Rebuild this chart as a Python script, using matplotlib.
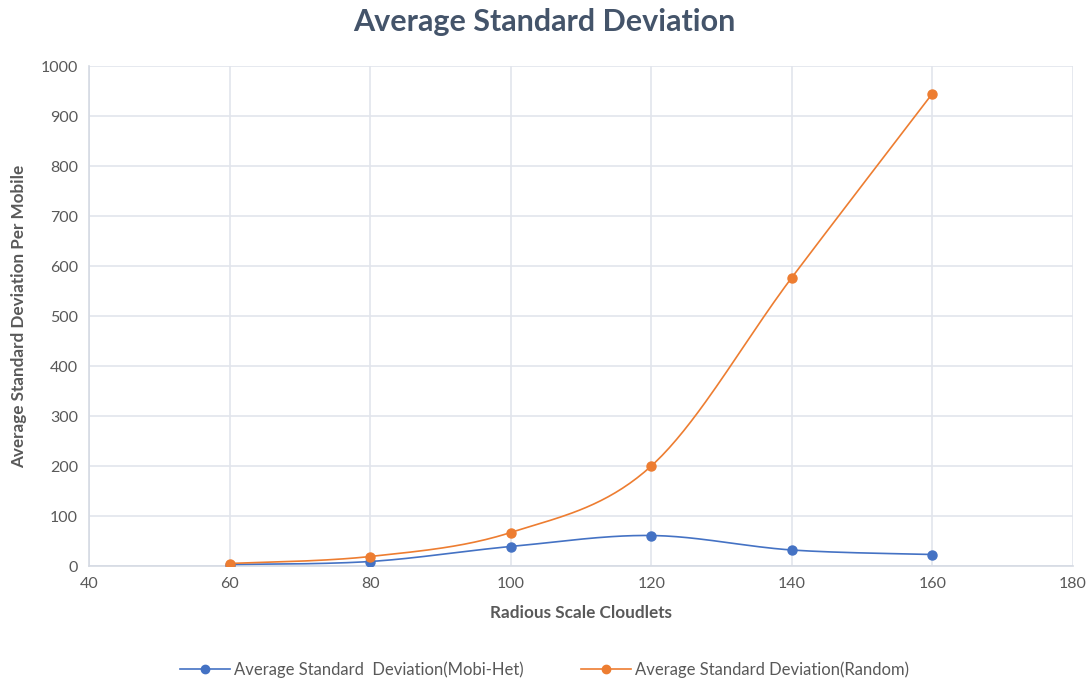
import numpy as np
import matplotlib
matplotlib.use("Agg")
import matplotlib.pyplot as plt
from matplotlib.lines import Line2D

plt.rcParams['font.family'] = ['Lato', 'DejaVu Sans']

radius = [60, 80, 100, 120, 140, 160]
mobi_het = [3, 9, 39, 61, 32, 23]
random_sd = [5, 19, 67, 200, 577, 945]

x_ticks = [40, 60, 80, 100, 120, 140, 160, 180]
y_ticks = list(range(0, 1001, 100))

BLUE = '#4472C4'
ORANGE = '#ED7D31'
GRID = '#E2E5EC'
TEXT = '#595959'


def smooth(xs, ys, n=40):
    """Cubic Bezier smoothing through every point (spreadsheet-style)."""
    xs = np.asarray(xs, float)
    ys = np.asarray(ys, float)
    px = np.concatenate([[xs[0]], xs, [xs[-1]]])
    py = np.concatenate([[ys[0]], ys, [ys[-1]]])
    out_x, out_y = [], []
    t = np.linspace(0, 1, n)
    for i in range(1, len(px) - 2):
        p0 = np.array([px[i], py[i]])
        p3 = np.array([px[i + 1], py[i + 1]])
        c1 = p0 + (np.array([px[i + 1], py[i + 1]]) - np.array([px[i - 1], py[i - 1]])) / 6
        c2 = p3 - (np.array([px[i + 2], py[i + 2]]) - np.array([px[i], py[i]])) / 6
        b = ((1 - t) ** 3)[:, None] * p0 + (3 * (1 - t) ** 2 * t)[:, None] * c1 \
            + (3 * (1 - t) * t ** 2)[:, None] * c2 + (t ** 3)[:, None] * p3
        out_x.extend(b[:, 0])
        out_y.extend(b[:, 1])
    return out_x, out_y


fig = plt.figure(figsize=(10.89, 6.82), dpi=100)
ax = fig.add_axes([89 / 1089, 1 - 566 / 682, (1073 - 89) / 1089, 500 / 682])

for ys, color in [(mobi_het, BLUE), (random_sd, ORANGE)]:
    sx, sy = smooth(radius, ys)
    ax.plot(sx, sy, color=color, lw=1.2, zorder=3)
    ax.plot(radius, ys, 'o', color=color, ms=6.5, zorder=4)

ax.set_xlim(40, 180)
ax.set_ylim(0, 1000)
ax.set_xticks(x_ticks)
ax.set_yticks(y_ticks)
ax.grid(True, color=GRID, lw=1.2)
ax.set_axisbelow(True)
for s in ['top', 'right']:
    ax.spines[s].set_visible(False)
for s in ['left', 'bottom']:
    ax.spines[s].set_color('#D5DAE3')
    ax.spines[s].set_linewidth(1.2)
ax.tick_params(length=0, colors=TEXT, labelsize=11.5, pad=8)

ax.set_xlabel('Radious Scale Cloudlets', fontsize=12.3, fontweight='bold', color=TEXT, labelpad=10)
ax.set_ylabel('Average Standard Deviation Per Mobile', fontsize=12.3, fontweight='bold', color=TEXT, labelpad=10)

fig.text(0.5, 1 - 22 / 682, 'Average Standard Deviation', ha='center', va='center',
         fontsize=22, fontweight='bold', color='#44546A')

handles = [Line2D([], [], color=BLUE, marker='o', ms=6, lw=1.2),
           Line2D([], [], color=ORANGE, marker='o', ms=6, lw=1.2)]
labels = ['Average Standard  Deviation(Mobi-Het)', 'Average Standard Deviation(Random)']
fig.legend(handles, labels, loc='center', bbox_to_anchor=(0.5, 1 - 670 / 682), ncol=2,
           frameon=False, fontsize=12, labelcolor=TEXT, handlelength=3, columnspacing=3.5,
           handletextpad=0.2)

fig.savefig('out.png', dpi=100, facecolor='white')
